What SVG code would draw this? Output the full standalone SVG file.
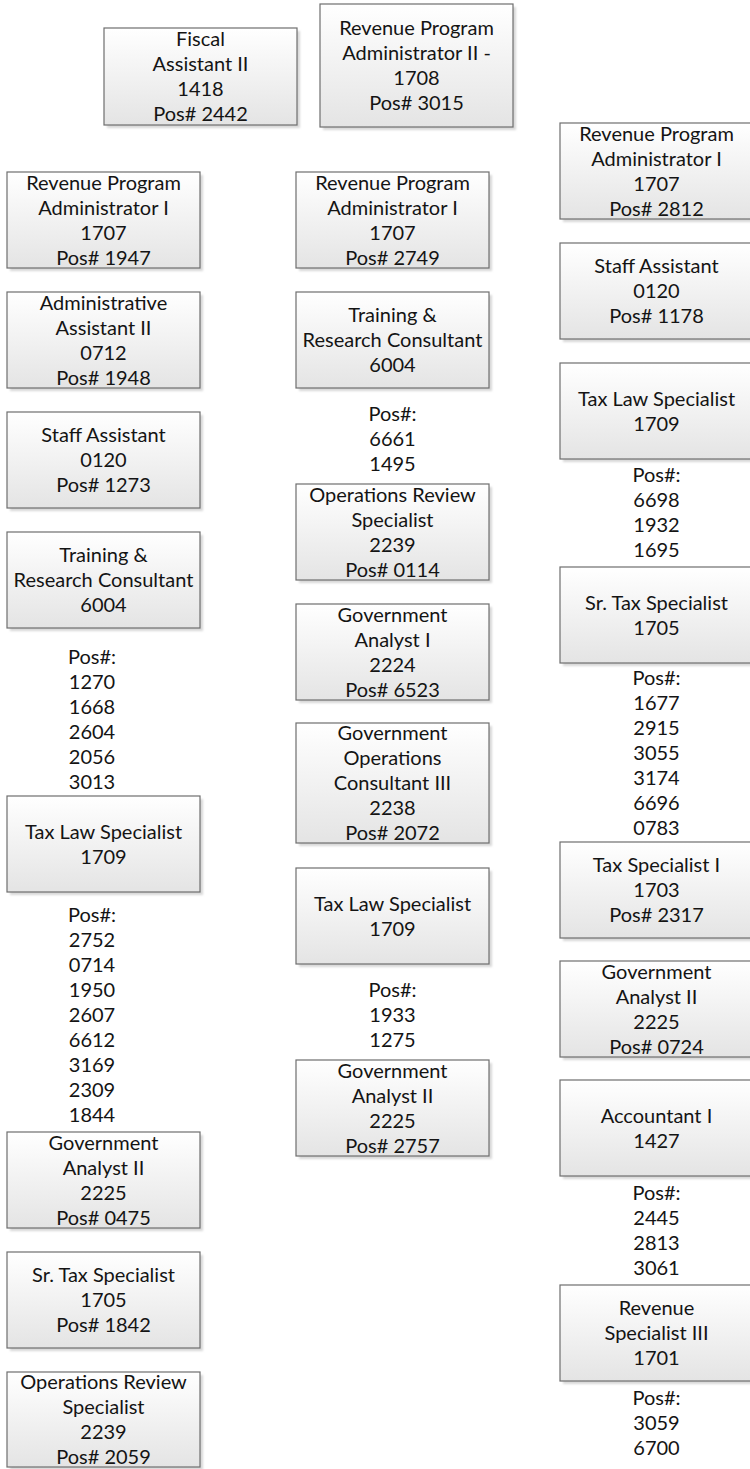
<svg xmlns="http://www.w3.org/2000/svg" width="750" height="1469" viewBox="0 0 750 1469">
  <defs>
    <linearGradient id="boxFill" x1="0" y1="0" x2="0" y2="1">
      <stop offset="0" stop-color="#ffffff"/>
      <stop offset="1" stop-color="#e4e4e4"/>
    </linearGradient>
    <filter id="soft" x="-10%" y="-10%" width="120%" height="120%">
      <feGaussianBlur stdDeviation="1.2"/>
    </filter>
  </defs>
  <style>
    .shadow { fill: #b8b8b8; opacity: 0.55; filter: url(#soft); }
    .box { fill: url(#boxFill); stroke: #6e6e6e; stroke-width: 1.2; }
    text { font-family: Lato, "Liberation Sans", sans-serif; font-size: 20px; fill: #141414; text-anchor: middle; }
  </style>
  <rect width="750" height="1469" fill="#ffffff"/>

  <!-- top row -->
  <g id="fiscal-assistant-2442">
    <rect class="shadow" x="107" y="31" width="193" height="97"/>
    <rect class="box" x="104" y="28" width="193" height="97"/>
    <text x="200.5"><tspan y="46">Fiscal</tspan><tspan x="200.5" y="71">Assistant II</tspan><tspan x="200.5" y="96">1418</tspan><tspan x="200.5" y="121">Pos# 2442</tspan></text>
  </g>
  <g id="rpa2-3015">
    <rect class="shadow" x="323" y="7" width="193" height="123"/>
    <rect class="box" x="320" y="4" width="193" height="123"/>
    <text x="416.5"><tspan y="35">Revenue Program</tspan><tspan x="416.5" y="60">Administrator II -</tspan><tspan x="416.5" y="85">1708</tspan><tspan x="416.5" y="110">Pos# 3015</tspan></text>
  </g>

  <!-- left column -->
  <g id="rpa1-1947">
    <rect class="shadow" x="10" y="175" width="193" height="96"/>
    <rect class="box" x="7" y="172" width="193" height="96"/>
    <text x="103.5"><tspan y="189.5">Revenue Program</tspan><tspan x="103.5" y="214.5">Administrator I</tspan><tspan x="103.5" y="239.5">1707</tspan><tspan x="103.5" y="264.5">Pos# 1947</tspan></text>
  </g>
  <g id="admin-assistant-1948">
    <rect class="shadow" x="10" y="295" width="193" height="96"/>
    <rect class="box" x="7" y="292" width="193" height="96"/>
    <text x="103.5"><tspan y="309.5">Administrative</tspan><tspan x="103.5" y="334.5">Assistant II</tspan><tspan x="103.5" y="359.5">0712</tspan><tspan x="103.5" y="384.5">Pos# 1948</tspan></text>
  </g>
  <g id="staff-assistant-1273">
    <rect class="shadow" x="10" y="415" width="193" height="96"/>
    <rect class="box" x="7" y="412" width="193" height="96"/>
    <text x="103.5"><tspan y="442">Staff Assistant</tspan><tspan x="103.5" y="467">0120</tspan><tspan x="103.5" y="492">Pos# 1273</tspan></text>
  </g>
  <g id="training-consultant-left">
    <rect class="shadow" x="10" y="535" width="193" height="96"/>
    <rect class="box" x="7" y="532" width="193" height="96"/>
    <text x="103.5"><tspan y="562">Training &amp;</tspan><tspan x="103.5" y="587">Research Consultant</tspan><tspan x="103.5" y="612">6004</tspan></text>
  </g>
  <g id="training-consultant-left-positions">
    <text x="92"><tspan y="664">Pos#:</tspan><tspan x="92" y="689">1270</tspan><tspan x="92" y="714">1668</tspan><tspan x="92" y="739">2604</tspan><tspan x="92" y="764">2056</tspan><tspan x="92" y="789">3013</tspan></text>
  </g>
  <g id="tax-law-left">
    <rect class="shadow" x="10" y="799" width="193" height="96"/>
    <rect class="box" x="7" y="796" width="193" height="96"/>
    <text x="103.5"><tspan y="838.5">Tax Law Specialist</tspan><tspan x="103.5" y="863.5">1709</tspan></text>
  </g>
  <g id="tax-law-left-positions">
    <text x="92"><tspan y="922">Pos#:</tspan><tspan x="92" y="947">2752</tspan><tspan x="92" y="972">0714</tspan><tspan x="92" y="997">1950</tspan><tspan x="92" y="1022">2607</tspan><tspan x="92" y="1047">6612</tspan><tspan x="92" y="1072">3169</tspan><tspan x="92" y="1097">2309</tspan><tspan x="92" y="1122">1844</tspan></text>
  </g>
  <g id="gov-analyst2-0475">
    <rect class="shadow" x="10" y="1135" width="193" height="96"/>
    <rect class="box" x="7" y="1132" width="193" height="96"/>
    <text x="103.5"><tspan y="1149.5">Government</tspan><tspan x="103.5" y="1174.5">Analyst II</tspan><tspan x="103.5" y="1199.5">2225</tspan><tspan x="103.5" y="1224.5">Pos# 0475</tspan></text>
  </g>
  <g id="sr-tax-1842">
    <rect class="shadow" x="10" y="1255" width="193" height="96"/>
    <rect class="box" x="7" y="1252" width="193" height="96"/>
    <text x="103.5"><tspan y="1282">Sr. Tax Specialist</tspan><tspan x="103.5" y="1307">1705</tspan><tspan x="103.5" y="1332">Pos# 1842</tspan></text>
  </g>
  <g id="ops-review-2059">
    <rect class="shadow" x="10" y="1375" width="193" height="95"/>
    <rect class="box" x="7" y="1372" width="193" height="95"/>
    <text x="103.5"><tspan y="1389">Operations Review</tspan><tspan x="103.5" y="1414">Specialist</tspan><tspan x="103.5" y="1439">2239</tspan><tspan x="103.5" y="1464">Pos# 2059</tspan></text>
  </g>

  <!-- middle column -->
  <g id="rpa1-2749">
    <rect class="shadow" x="299" y="175" width="193" height="96"/>
    <rect class="box" x="296" y="172" width="193" height="96"/>
    <text x="392.5"><tspan y="189.5">Revenue Program</tspan><tspan x="392.5" y="214.5">Administrator I</tspan><tspan x="392.5" y="239.5">1707</tspan><tspan x="392.5" y="264.5">Pos# 2749</tspan></text>
  </g>
  <g id="training-consultant-mid">
    <rect class="shadow" x="299" y="295" width="193" height="96"/>
    <rect class="box" x="296" y="292" width="193" height="96"/>
    <text x="392.5"><tspan y="322">Training &amp;</tspan><tspan x="392.5" y="347">Research Consultant</tspan><tspan x="392.5" y="372">6004</tspan></text>
  </g>
  <g id="training-consultant-mid-positions">
    <text x="392.5"><tspan y="421">Pos#:</tspan><tspan x="392.5" y="446">6661</tspan><tspan x="392.5" y="471">1495</tspan></text>
  </g>
  <g id="ops-review-0114">
    <rect class="shadow" x="299" y="487" width="193" height="96"/>
    <rect class="box" x="296" y="484" width="193" height="96"/>
    <text x="392.5"><tspan y="501.5">Operations Review</tspan><tspan x="392.5" y="526.5">Specialist</tspan><tspan x="392.5" y="551.5">2239</tspan><tspan x="392.5" y="576.5">Pos# 0114</tspan></text>
  </g>
  <g id="gov-analyst1-6523">
    <rect class="shadow" x="299" y="607" width="193" height="96"/>
    <rect class="box" x="296" y="604" width="193" height="96"/>
    <text x="392.5"><tspan y="621.5">Government</tspan><tspan x="392.5" y="646.5">Analyst I</tspan><tspan x="392.5" y="671.5">2224</tspan><tspan x="392.5" y="696.5">Pos# 6523</tspan></text>
  </g>
  <g id="gov-ops-consultant-2072">
    <rect class="shadow" x="299" y="726" width="193" height="120"/>
    <rect class="box" x="296" y="723" width="193" height="120"/>
    <text x="392.5"><tspan y="740">Government</tspan><tspan x="392.5" y="765">Operations</tspan><tspan x="392.5" y="790">Consultant III</tspan><tspan x="392.5" y="815">2238</tspan><tspan x="392.5" y="840">Pos# 2072</tspan></text>
  </g>
  <g id="tax-law-mid">
    <rect class="shadow" x="299" y="871" width="193" height="96"/>
    <rect class="box" x="296" y="868" width="193" height="96"/>
    <text x="392.5"><tspan y="910.5">Tax Law Specialist</tspan><tspan x="392.5" y="935.5">1709</tspan></text>
  </g>
  <g id="tax-law-mid-positions">
    <text x="392.5"><tspan y="997">Pos#:</tspan><tspan x="392.5" y="1022">1933</tspan><tspan x="392.5" y="1047">1275</tspan></text>
  </g>
  <g id="gov-analyst2-2757">
    <rect class="shadow" x="299" y="1063" width="193" height="96"/>
    <rect class="box" x="296" y="1060" width="193" height="96"/>
    <text x="392.5"><tspan y="1077.5">Government</tspan><tspan x="392.5" y="1102.5">Analyst II</tspan><tspan x="392.5" y="1127.5">2225</tspan><tspan x="392.5" y="1152.5">Pos# 2757</tspan></text>
  </g>

  <!-- right column -->
  <g id="rpa1-2812">
    <rect class="shadow" x="563" y="126" width="193" height="96"/>
    <rect class="box" x="560" y="123" width="193" height="96"/>
    <text x="656.5"><tspan y="140.5">Revenue Program</tspan><tspan x="656.5" y="165.5">Administrator I</tspan><tspan x="656.5" y="190.5">1707</tspan><tspan x="656.5" y="215.5">Pos# 2812</tspan></text>
  </g>
  <g id="staff-assistant-1178">
    <rect class="shadow" x="563" y="246" width="193" height="96"/>
    <rect class="box" x="560" y="243" width="193" height="96"/>
    <text x="656.5"><tspan y="273">Staff Assistant</tspan><tspan x="656.5" y="298">0120</tspan><tspan x="656.5" y="323">Pos# 1178</tspan></text>
  </g>
  <g id="tax-law-right">
    <rect class="shadow" x="563" y="366" width="193" height="96"/>
    <rect class="box" x="560" y="363" width="193" height="96"/>
    <text x="656.5"><tspan y="405.5">Tax Law Specialist</tspan><tspan x="656.5" y="430.5">1709</tspan></text>
  </g>
  <g id="tax-law-right-positions">
    <text x="656.5"><tspan y="482">Pos#:</tspan><tspan x="656.5" y="507">6698</tspan><tspan x="656.5" y="532">1932</tspan><tspan x="656.5" y="557">1695</tspan></text>
  </g>
  <g id="sr-tax-right">
    <rect class="shadow" x="563" y="570" width="193" height="96"/>
    <rect class="box" x="560" y="567" width="193" height="96"/>
    <text x="656.5"><tspan y="609.5">Sr. Tax Specialist</tspan><tspan x="656.5" y="634.5">1705</tspan></text>
  </g>
  <g id="sr-tax-right-positions">
    <text x="656.5"><tspan y="685">Pos#:</tspan><tspan x="656.5" y="710">1677</tspan><tspan x="656.5" y="735">2915</tspan><tspan x="656.5" y="760">3055</tspan><tspan x="656.5" y="785">3174</tspan><tspan x="656.5" y="810">6696</tspan><tspan x="656.5" y="835">0783</tspan></text>
  </g>
  <g id="tax-specialist1-2317">
    <rect class="shadow" x="563" y="845" width="193" height="96"/>
    <rect class="box" x="560" y="842" width="193" height="96"/>
    <text x="656.5"><tspan y="872">Tax Specialist I</tspan><tspan x="656.5" y="897">1703</tspan><tspan x="656.5" y="922">Pos# 2317</tspan></text>
  </g>
  <g id="gov-analyst2-0724">
    <rect class="shadow" x="563" y="964" width="193" height="96"/>
    <rect class="box" x="560" y="961" width="193" height="96"/>
    <text x="656.5"><tspan y="978.5">Government</tspan><tspan x="656.5" y="1003.5">Analyst II</tspan><tspan x="656.5" y="1028.5">2225</tspan><tspan x="656.5" y="1053.5">Pos# 0724</tspan></text>
  </g>
  <g id="accountant1">
    <rect class="shadow" x="563" y="1083" width="193" height="96"/>
    <rect class="box" x="560" y="1080" width="193" height="96"/>
    <text x="656.5"><tspan y="1122.5">Accountant I</tspan><tspan x="656.5" y="1147.5">1427</tspan></text>
  </g>
  <g id="accountant1-positions">
    <text x="656.5"><tspan y="1200">Pos#:</tspan><tspan x="656.5" y="1225">2445</tspan><tspan x="656.5" y="1250">2813</tspan><tspan x="656.5" y="1275">3061</tspan></text>
  </g>
  <g id="revenue-specialist3">
    <rect class="shadow" x="563" y="1288" width="193" height="96"/>
    <rect class="box" x="560" y="1285" width="193" height="96"/>
    <text x="656.5"><tspan y="1315">Revenue</tspan><tspan x="656.5" y="1340">Specialist III</tspan><tspan x="656.5" y="1365">1701</tspan></text>
  </g>
  <g id="revenue-specialist3-positions">
    <text x="656.5"><tspan y="1405">Pos#:</tspan><tspan x="656.5" y="1430">3059</tspan><tspan x="656.5" y="1455">6700</tspan></text>
  </g>
</svg>
